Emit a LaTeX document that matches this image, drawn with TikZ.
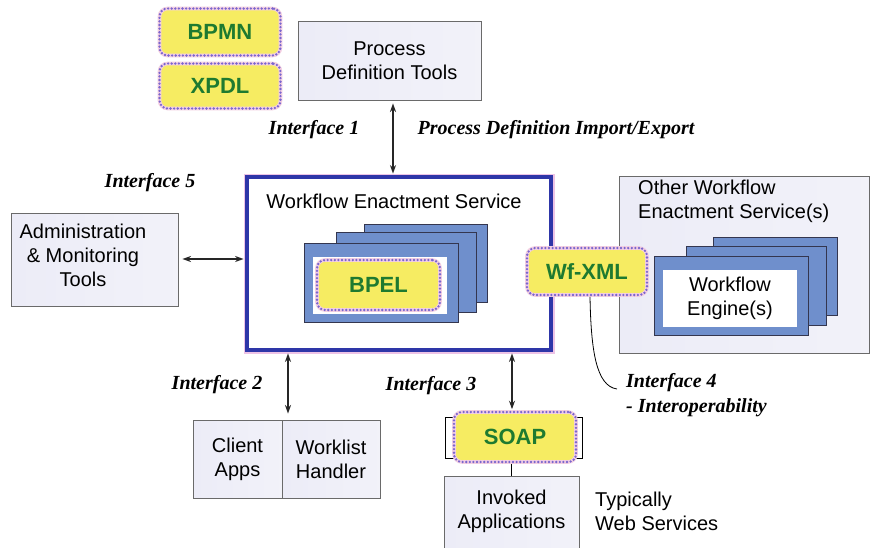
\documentclass[tikz,border=0pt]{standalone}
\usepackage{fontspec}
\setmainfont{Liberation Sans}
\newfontfamily\labserif{Liberation Serif}
\usetikzlibrary{arrows.meta}
\definecolor{lav}{HTML}{ECECF7}
\definecolor{gborder}{HTML}{6A6A6A}
\definecolor{stackblue}{HTML}{6F8FCC}
\definecolor{stackedge}{HTML}{34364F}
\definecolor{wesblue}{HTML}{2E36A8}
\definecolor{wesglow}{HTML}{EDC3E6}
\definecolor{ylw}{HTML}{F6EC62}
\definecolor{dotc}{HTML}{7A66CE}
\definecolor{yglow}{HTML}{F3CFE2}
\definecolor{grn}{HTML}{1E7A30}
\tikzset{
  txt/.style={font=\fontsize{20}{24}\selectfont, align=center, inner sep=0pt},
  gbox/.style={rectangle, draw=gborder, line width=0.9pt, left color=lav, middle color=white, right color=lav!70, inner sep=0pt, txt},
  stackbox/.style={rectangle, draw=stackedge, line width=0.9pt, fill=stackblue, inner sep=0pt},
  whitebox/.style={rectangle, fill=white, inner sep=0pt},
  ybox/.style={rectangle, rounded corners=8pt, fill=ylw, draw=yglow, line width=3.6pt, inner sep=0pt,
    font=\fontsize{22}{26}\selectfont\bfseries, text=grn,
    postaction={draw=dotc, fill=none, line width=2.6pt, dash pattern=on 0pt off 3.6pt, line cap=round}},
  ilab/.style={font=\labserif\fontsize{20}{25}\selectfont\bfseries\itshape, inner sep=0pt, align=left},
  biarrow/.style={draw=black!85, line width=1.5pt, {Stealth[length=8.5pt,width=6pt]}-{Stealth[length=8.5pt,width=6pt]}}
}
\begin{document}
\begin{tikzpicture}[x=1pt,y=-1pt]
\fill[white] (0,0) rectangle (871,547);
\useasboundingbox (0,0) rectangle (871,547);

% Top: BPMN / XPDL, Process Definition Tools
\node[ybox, minimum width=121pt, minimum height=47pt] (bpmn) at (220,32) {BPMN};
\node[ybox, minimum width=121pt, minimum height=45pt] (xpdl) at (220,86) {XPDL};
\node[gbox, minimum width=183pt, minimum height=79pt] (pdt) at (389.5,60.5) {Process\\Definition Tools};

% Workflow Enactment Service
\node[rectangle, draw=wesblue, line width=4.8pt, fill=white, minimum width=304pt, minimum height=173pt,
      preaction={draw=wesglow, line width=7pt}] (wes) at (399,263.5) {};
\node[txt] (westitle) at (394,201) {Workflow Enactment Service};

% BPEL stack
\node[stackbox, minimum width=123pt, minimum height=78pt] (bs3) at (425.5,263) {};
\node[stackbox, minimum width=140pt, minimum height=80pt] (bs2) at (406,272) {};
\node[stackbox, minimum width=154pt, minimum height=79pt] (bs1) at (381,282.5) {};
\node[whitebox, minimum width=134pt, minimum height=57pt] (bsw) at (380,285.5) {};
\node[ybox, minimum width=123pt, minimum height=50pt] (bpel) at (378.5,285) {BPEL};

% Other Workflow Enactment Service(s)
\node[gbox, minimum width=250pt, minimum height=177pt] (owes) at (744,264.5) {};
\node[txt, anchor=north west, align=left] (owestitle) at (638,180) {Other Workflow\\Enactment Service(s)};
\node[stackbox, minimum width=124pt, minimum height=78pt] (es3) at (775,276) {};
\node[stackbox, minimum width=140pt, minimum height=79pt] (es2) at (756,285.5) {};
\node[stackbox, minimum width=154pt, minimum height=79pt] (es1) at (731,295.5) {};
\node[whitebox, minimum width=134pt, minimum height=57pt, txt] (engine) at (730,298.5) {Workflow\\Engine(s)};

% Wf-XML
\node[ybox, minimum width=120pt, minimum height=47pt] (wfxml) at (587,271.5) {Wf-XML};

% Administration & Monitoring Tools
\node[gbox, minimum width=167pt, minimum height=93pt] (admin) at (94.5,259.5) {};
\node[txt] (admintxt) at (83,255) {Administration\\\& Monitoring\\Tools};

% Client Apps / Worklist Handler
\node[gbox, minimum width=89pt, minimum height=78pt] (client) at (237.5,459) {Client\\Apps};
\node[gbox, minimum width=98pt, minimum height=78pt] (worklist) at (331,459) {Worklist\\Handler};

% SOAP and invoked applications
\node[rectangle, draw=black, line width=0.8pt, minimum width=137pt, minimum height=41pt] (soapbr) at (513.5,437.5) {};
\node[ybox, minimum width=122pt, minimum height=50pt] (soap) at (515,437) {SOAP};
\node[gbox, minimum width=135pt, minimum height=90pt] (invoked) at (511.5,521) {};
\node[txt] (invtxt) at (511.5,511.5) {Invoked\\Applications};
\node[txt, anchor=west, align=left] (websvc) at (595,511.5) {Typically\\Web Services};
\draw[line width=0.8pt] (soap.south -| invoked.north) -- (invoked.north);

% Interface labels
\node[ilab] (if1) at (314,130) {Interface 1};
\node[ilab] (ifpd) at (556,130) {Process Definition Import/Export};
\node[ilab] (if5) at (150,183) {Interface 5};
\node[ilab] (if2) at (217,385) {Interface 2};
\node[ilab] (if3) at (431,386) {Interface 3};
\node[ilab, anchor=west] (if4) at (626,395.5) {Interface 4\\- Interoperability};

% Arrows
\coordinate (ax1) at (393,0);
\coordinate (ax2) at (288,0);
\coordinate (ax3) at (512,0);
\coordinate (ay5) at (0,259);
\draw[biarrow, shorten <=3pt, shorten >=1pt] (pdt.south -| ax1) -- (wes.north -| ax1);
\draw[biarrow, shorten <=4pt, shorten >=1pt] (admin.east |- ay5) -- (wes.west |- ay5);
\draw[biarrow, shorten <=1pt, shorten >=6pt] (wes.south -| ax2) -- (client.north -| ax2);
\draw[biarrow, shorten <=1pt, shorten >=1pt] (wes.south -| ax3) -- (soap.north -| ax3);

% Interface 4 connector
\coordinate (c4end) at (617,389);
\draw[line width=0.8pt] ([xshift=3pt]wfxml.south) .. controls (591,350) and (596,386) .. (c4end);
\end{tikzpicture}
\end{document}
